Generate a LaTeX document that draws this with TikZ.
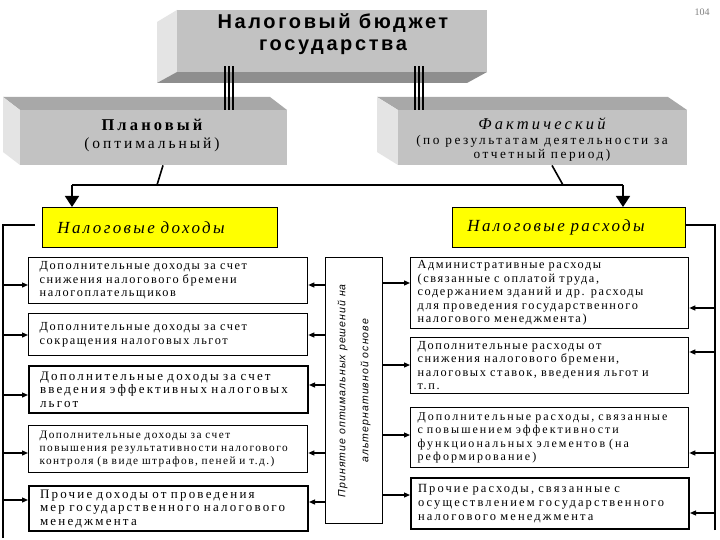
\documentclass[tikz,border=0pt]{standalone}
\usepackage{fontspec}
\setmainfont{Liberation Serif}
\newfontfamily\bodyf[LetterSpace=13]{Liberation Serif}
\newfontfamily\bigf[LetterSpace=17]{Liberation Serif}
\newfontfamily\titf[LetterSpace=13]{Liberation Sans}
\newfontfamily\serw[LetterSpace=14]{Liberation Serif}
\newfontfamily\serx[LetterSpace=19]{Liberation Serif}
\newfontfamily\sanw[LetterSpace=10]{Liberation Sans}
\usetikzlibrary{arrows.meta,calc}
\definecolor{frontg}{HTML}{C2C2C2}
\definecolor{topg}{HTML}{A8A8A8}
\definecolor{sideg}{HTML}{E4E4E4}
\definecolor{botg}{HTML}{8E8E8E}
\definecolor{yel}{HTML}{FFFF00}
\tikzset{
  frontbox/.style={fill=frontg, anchor=north west, inner sep=0pt},
  ftext/.style={inner sep=0pt, anchor=base},
  ybox/.style={draw, line width=0.8pt, fill=yel, anchor=north west, inner xsep=12pt, align=left,
    font=\serw\itshape\fontsize{17}{19}\selectfont},
  lbox/.style={draw, line width=1.3pt, anchor=north west, inner xsep=11pt, inner ysep=0pt, align=left,
    font=\bodyf\fontsize{12.3}{13.5}\selectfont},
  rbox/.style={lbox, inner xsep=6pt, minimum width=278pt, text width=264pt},
  sbox/.style={lbox, font=\bodyf\fontsize{11.3}{13}\selectfont},
  bbox/.style={lbox, line width=2pt, font=\bigf\fontsize{13}{13.5}\selectfont},
  arr/.style={-{Triangle[length=6pt,width=5pt]}, line width=1.2pt},
  bigarr/.style={-{Triangle[length=11pt,width=14pt]}, line width=1.6pt},
  bus/.style={line width=1.6pt},
  trip/.style={line width=1.5pt}
}
\begin{document}
\begin{tikzpicture}[x=1pt,y=-1pt]
\useasboundingbox (0,0) rectangle (720,540);
\fill[white] (0,0) rectangle (720,540);

% top 3D box
\fill[sideg] (157,22) -- (177,10) -- (177,72) -- (157,83) -- cycle;
\fill[botg] (157,83) -- (177,72) -- (487,72) -- (467,83) -- cycle;
\node[frontbox, minimum width=310pt, minimum height=62pt] (topf) at (177,10) {};
\node[ftext, font=\titf\bfseries\fontsize{20}{20}\selectfont] (topt1) at (333,29) {Налоговый бюджет};
\node[ftext, font=\titf\bfseries\fontsize{20}{20}\selectfont] (topt2) at (333,51) {государства};

% plan box
\fill[topg] (3,97) -- (270,97) -- (287,110) -- (20,110) -- cycle;
\fill[sideg] (3,97) -- (20,110) -- (20,165) -- (3,152) -- cycle;
\node[frontbox, minimum width=267pt, minimum height=55pt] (planf) at (20,110) {};
\node[ftext, font=\serx\bfseries\fontsize{16.5}{17}\selectfont] (plt1) at (152,131) {Плановый};
\node[ftext, font=\serx\fontsize{15.5}{16}\selectfont] (plt2) at (152,149) {(оптимальный)};

% fact box
\fill[topg] (377,97) -- (668,97) -- (687,110) -- (398,110) -- cycle;
\fill[sideg] (377,97) -- (398,110) -- (398,165) -- (377,152) -- cycle;
\node[frontbox, minimum width=289pt, minimum height=55pt] (factf) at (398,110) {};
\node[ftext, font=\serx\itshape\fontsize{16.5}{17}\selectfont] (ft1) at (542,130) {Фактический};
\node[ftext, font=\serx\fontsize{13.3}{14}\selectfont] (ft2) at (542,145) {(по результатам деятельности за};
\node[ftext, font=\serx\fontsize{13.3}{14}\selectfont] (ft3) at (542,159) {отчетный период)};

% triple connectors
\foreach \d in {-4,0,4}{
  \draw[trip] ($(topf.south -| 229,0)+(\d,-6)$) -- ($(planf.north -| 229,0)+(\d,0)$);
  \draw[trip] ($(topf.south -| 419,0)+(\d,-6)$) -- ($(factf.north -| 419,0)+(\d,0)$);
}

% page number
\node[text=gray, font=\fontsize{10}{10}\selectfont] (pg) at (702,12) {104};

% yellow boxes
\node[ybox, minimum width=235pt, minimum height=40pt, text width=205pt] (yd) at (42,207) {Налоговые доходы};
\node[ybox, minimum width=233pt, minimum height=40pt, text width=203pt] (yr) at (452,207) {Налоговые расходы};

% distribution line
\coordinate (hl) at (72,185);
\coordinate (hr) at (623,185);
\coordinate (pj) at (157,185);
\coordinate (fj) at (563,185);
\draw[bus] (hl) -- (hr);
\draw[bus] (planf.south -| 163,0) -- (pj);
\draw[bus] (factf.south -| 552,0) -- (fj);
\draw[bigarr] (hl) -- (hl |- yd.north);
\draw[bigarr] (hr) -- (hr |- yr.north);

% left boxes
\node[lbox, minimum width=279pt, minimum height=46pt, text width=257pt] (l1) at (28,257)
  {Дополнительные доходы за счет\\снижения налогового бремени\\налогоплательщиков};
\node[lbox, minimum width=279pt, minimum height=42pt, text width=257pt] (l2) at (28,313)
  {Дополнительные доходы за счет\\сокращения налоговых льгот};
\node[bbox, minimum width=279pt, minimum height=47pt, text width=257pt] (l3) at (28,365)
  {Дополнительные доходы за счет\\введения эффективных налоговых\\льгот};
\node[sbox, minimum width=279pt, minimum height=47pt, text width=257pt] (l4) at (28,425)
  {Дополнительные доходы за счет\\повышения результативности налогового\\контроля (в виде штрафов, пеней и т.д.)};
\node[bbox, minimum width=279pt, minimum height=45pt, text width=257pt] (l5) at (28,485)
  {Прочие доходы от проведения\\мер государственного налогового\\менеджмента};

% right boxes
\node[rbox, minimum height=71pt] (r1) at (410,257)
  {Административные расходы\\(связанные с оплатой труда,\\содержанием зданий и др. расходы\\для проведения государственного\\налогового менеджмента)};
\node[rbox, minimum height=56pt] (r2) at (410,337)
  {Дополнительные расходы от\\снижения налогового бремени,\\налоговых ставок, введения льгот и\\т.п.};
\node[rbox, minimum height=60pt, font=\bigf\fontsize{12}{13.5}\selectfont] (r3) at (410,407)
  {Дополнительные расходы, связанные\\с повышением эффективности\\функциональных элементов (на\\реформирование)};
\node[rbox, line width=2pt, minimum height=51pt, font=\bigf\fontsize{12.5}{14}\selectfont] (r4) at (410,477)
  {Прочие расходы, связанные с\\осуществлением государственного\\налогового менеджмента};

% middle box
\node[draw, line width=1.3pt, anchor=north west, minimum width=57pt, minimum height=266pt, inner sep=0pt] (mid) at (325,257) {};
\node[rotate=90, align=center, font=\sanw\itshape\fontsize{10.5}{23}\selectfont] (midt) at (mid.center)
  {Принятие оптимальных решений на\\альтернативной основе};

% left bus
\coordinate (lbt) at (3,225);
\coordinate (lbb) at (3,538);
\draw[bus] (lbb) -- (lbt) -- ($(lbt -| yd.west)+(-7,0)$);
\foreach \n/\y in {l1/285,l2/335,l3/395,l4/453,l5/500}{
  \draw[arr] (lbt |- 0,\y) -- (\n.west |- 0,\y);
}
% right bus
\coordinate (rbt) at (715,225);
\coordinate (rbb) at (715,530);
\draw[bus] (rbb) -- (rbt) -- (rbt -| yr.east);
\foreach \n/\y in {r1/308,r2/352,r3/453,r4/513}{
  \draw[arr] (rbt |- 0,\y) -- (\n.east |- 0,\y);
}
% middle arrows
\foreach \n/\y in {l1/285,l2/335,l3/385,l4/453,l5/502}{
  \draw[arr] (mid.west |- 0,\y) -- (\n.east |- 0,\y);
}
\foreach \n/\y in {r1/283,r2/365,r3/435,r4/495}{
  \draw[arr] (mid.east |- 0,\y) -- (\n.west |- 0,\y);
}
\end{tikzpicture}
\end{document}
